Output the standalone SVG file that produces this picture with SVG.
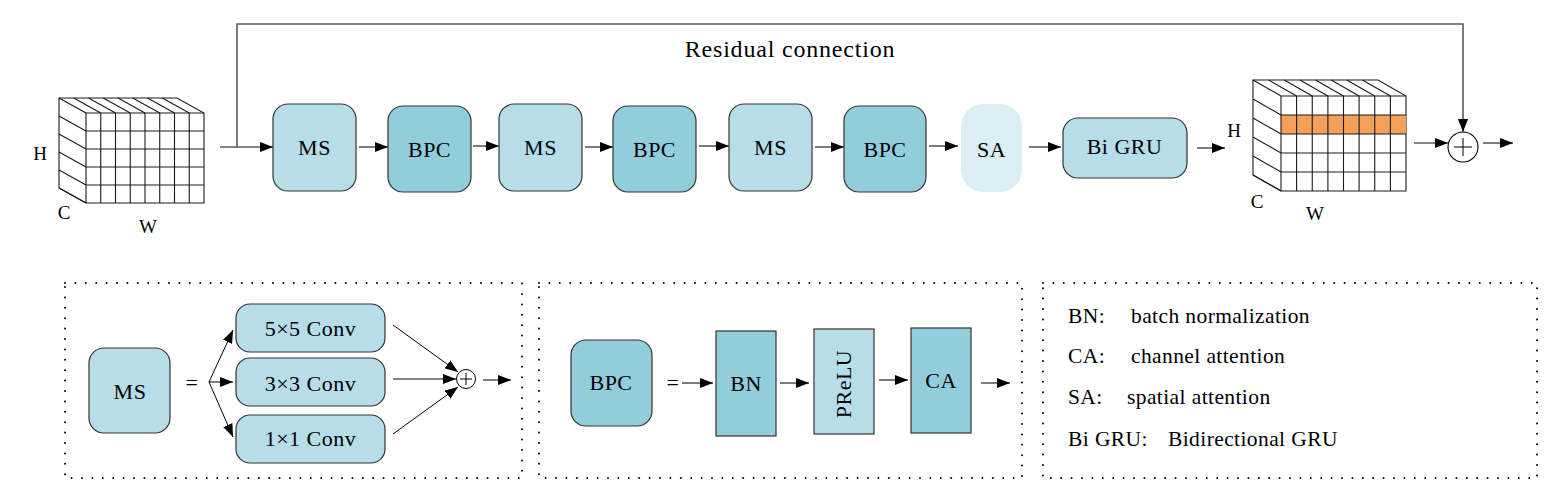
<svg xmlns="http://www.w3.org/2000/svg" width="1544" height="501" viewBox="0 0 1544 501" font-family="'Liberation Serif', 'DejaVu Serif', 'Noto Serif', 'Times New Roman', serif">
<style>
text{font-family:'Liberation Serif','DejaVu Serif','Noto Serif','Times New Roman',serif;fill:#000}
.lbl{font-size:22px;text-anchor:middle;letter-spacing:0.5px}
.axis{font-size:19px;text-anchor:middle}
.leg{font-size:21.5px;letter-spacing:0.4px}
.light{fill:#b7dde8;stroke:#333;stroke-width:1.2}
.dark{fill:#92cddb;stroke:#333;stroke-width:1.2}
.grid{fill:none;stroke:#1a1a1a;stroke-width:1.1}
.arr{fill:none;stroke:#5a5a5a;stroke-width:1.6;marker-end:url(#ah)}
.thin{fill:none;stroke:#000;stroke-width:1;marker-end:url(#ah)}
.dots{fill:none;stroke:#000;stroke-width:2;stroke-dasharray:0 10.4;stroke-linecap:round}
</style>
<defs>
<marker id="ah" markerWidth="13" markerHeight="10" refX="13" refY="5" orient="auto" markerUnits="userSpaceOnUse"><path d="M0,0 L13,5 L0,10 z" fill="#000"/></marker>
</defs>
<rect width="1544" height="501" fill="#fff"/>

<!-- input cube -->
<g id="input-cube">
<path class="grid" fill="#fff" d="M59,98 L177,98 L204,113 L204,203 L86,203 L59,188 Z"/>
<path class="grid" d="M86,113 H204 M86,131 H204 M86,149 H204 M86,167 H204 M86,185 H204 M86,113 V203 M100.75,113 V203 M115.5,113 V203 M130.25,113 V203 M145,113 V203 M159.75,113 V203 M174.5,113 V203 M189.25,113 V203"/>
<path class="grid" d="M86,113 L59,98 M100.75,113 L73.75,98 M115.5,113 L88.5,98 M130.25,113 L103.25,98 M145,113 L118,98 M159.75,113 L132.75,98 M174.5,113 L147.5,98 M189.25,113 L162.25,98"/>
<path class="grid" d="M86,131 L59,116 M86,149 L59,134 M86,167 L59,152 M86,185 L59,170 M86,203 L59,188"/>
<text class="axis" x="40" y="160">H</text>
<text class="axis" x="64" y="219">C</text>
<text class="axis" x="148" y="233">W</text>
</g>

<!-- main row nodes -->
<g id="ms1"><rect class="light" x="273" y="104" width="83" height="87" rx="15"/><text class="lbl" x="314.5" y="155">MS</text></g>
<g id="bpc1"><rect class="dark" x="388" y="106" width="83" height="86" rx="15"/><text class="lbl" x="429.5" y="157">BPC</text></g>
<g id="ms2"><rect class="light" x="499" y="104" width="83" height="87" rx="15"/><text class="lbl" x="540.5" y="155">MS</text></g>
<g id="bpc2"><rect class="dark" x="613" y="106" width="83" height="86" rx="15"/><text class="lbl" x="654.5" y="157">BPC</text></g>
<g id="ms3"><rect class="light" x="729" y="104" width="83" height="87" rx="15"/><text class="lbl" x="770.5" y="155">MS</text></g>
<g id="bpc3"><rect class="dark" x="844" y="106" width="82" height="86" rx="15"/><text class="lbl" x="885" y="157">BPC</text></g>
<g id="sa"><rect x="961" y="104" width="61" height="88" rx="22" fill="#dbeef3"/><text class="lbl" x="991.5" y="156.5">SA</text></g>
<g id="bigru"><rect class="light" x="1063" y="118" width="124" height="60" rx="15"/><text class="lbl" x="1124.5" y="154">Bi GRU</text></g>

<!-- output cube -->
<g id="output-cube">
<path class="grid" fill="#fff" d="M1253,80 L1378,80 L1406,96 L1406,191 L1281,191 L1253,175 Z"/>
<rect x="1281" y="115" width="125" height="19" fill="#f4a05a"/>
<path class="grid" d="M1281,96 H1406 M1281,115 H1406 M1281,134 H1406 M1281,153 H1406 M1281,172 H1406 M1281,96 V191 M1296.6,96 V191 M1312.25,96 V191 M1327.9,96 V191 M1343.5,96 V191 M1359.1,96 V191 M1374.75,96 V191 M1390.4,96 V191"/>
<path class="grid" d="M1281,96 L1253,80 M1296.6,96 L1268.6,80 M1312.25,96 L1284.25,80 M1327.9,96 L1299.9,80 M1343.5,96 L1315.5,80 M1359.1,96 L1331.1,80 M1374.75,96 L1346.75,80 M1390.4,96 L1362.4,80"/>
<path class="grid" d="M1281,115 L1253,99 M1281,134 L1253,118 M1281,153 L1253,137 M1281,172 L1253,156 M1281,191 L1253,175"/>
<text class="axis" x="1234" y="137">H</text>
<text class="axis" x="1257" y="208">C</text>
<text class="axis" x="1315" y="220">W</text>
</g>

<g id="sum-main">
<circle cx="1463" cy="147" r="15" fill="#fff" stroke="#000" stroke-width="1.1"/>
<path d="M1454,147 H1472 M1463,138 V156" stroke="#000" stroke-width="1"/>
</g>

<text x="790" y="57" style="font-size:24px;text-anchor:middle;letter-spacing:0.8px">Residual connection</text>

<!-- connectors -->
<g id="connectors">
<path class="arr" d="M220,147 H273"/>
<path class="arr" d="M237,147 V24 H1463 V132"/>
<path class="arr" d="M359,147 H388"/>
<path class="arr" d="M473,146 H499"/>
<path class="arr" d="M585,147 H613"/>
<path class="arr" d="M699,146 H729"/>
<path class="arr" d="M815,147 H844"/>
<path class="arr" d="M929,146 H958"/>
<path class="arr" d="M1029,147 H1061"/>
<path class="arr" d="M1197,148 H1225"/>
<path class="arr" d="M1414,143 H1448"/>
<path class="arr" d="M1483,143 H1513"/>
<path class="thin" d="M209,382 L233,330"/>
<path class="thin" d="M209,382 L233,382"/>
<path class="thin" d="M209,382 L233,437"/>
<path class="thin" d="M393,325 L458,372"/>
<path class="arr" d="M393,379 L456,379"/>
<path class="thin" d="M393,434 L458,387"/>
<path class="thin" d="M483,380 H511"/>
<path class="arr" d="M682,383 H713"/>
<path class="arr" d="M780,383 H809"/>
<path class="arr" d="M879,380 H908"/>
<path class="arr" d="M981,383 H1010"/>
</g>

<!-- MS panel -->
<g id="ms-panel">
<rect class="dots" x="65" y="283" width="457" height="195"/>
<g id="ms-detail"><rect class="light" x="89" y="348" width="81" height="85" rx="15"/><text class="lbl" x="130" y="399">MS</text></g>
<text class="lbl" x="192" y="390">=</text>
<g id="conv5"><rect class="light" x="236" y="304" width="149" height="48" rx="14"/><text class="lbl" x="310.5" y="336">5×5 Conv</text></g>
<g id="conv3"><rect class="light" x="236" y="358" width="149" height="48" rx="14"/><text class="lbl" x="310.5" y="390.5">3×3 Conv</text></g>
<g id="conv1"><rect class="light" x="236" y="415" width="149" height="48" rx="14"/><text class="lbl" x="310.5" y="445.5">1×1 Conv</text></g>
<g id="sum-ms">
<circle cx="466" cy="379" r="9.5" fill="#fff" stroke="#000" stroke-width="1"/>
<path d="M460,379 H472 M466,373 V385" stroke="#000" stroke-width="1"/>
</g>
</g>

<!-- BPC panel -->
<g id="bpc-panel">
<rect class="dots" x="539" y="283" width="483" height="195"/>
<g id="bpc-detail"><rect class="dark" x="571" y="340" width="81" height="86" rx="15"/><text class="lbl" x="611" y="390">BPC</text></g>
<text class="lbl" x="673" y="390">=</text>
<g id="bn"><rect class="dark" x="716" y="331" width="60" height="105"/><text class="lbl" x="746" y="391">BN</text></g>
<g id="prelu"><rect class="light" x="814" y="329" width="60" height="105"/><text class="lbl" transform="translate(851,384) rotate(-90)" x="0" y="0">PReLU</text></g>
<g id="ca"><rect class="dark" x="911" y="328" width="60" height="105"/><text class="lbl" x="941" y="388">CA</text></g>
</g>

<!-- legend -->
<g id="legend">
<rect class="dots" x="1043" y="283" width="494" height="195"/>
<text class="leg" y="323"><tspan x="1068">BN:</tspan><tspan x="1131">batch normalization</tspan></text>
<text class="leg" y="363"><tspan x="1068">CA:</tspan><tspan x="1131">channel attention</tspan></text>
<text class="leg" y="404"><tspan x="1068">SA:</tspan><tspan x="1127">spatial attention</tspan></text>
<text class="leg" y="446"><tspan x="1068">Bi GRU:</tspan><tspan x="1168">Bidirectional GRU</tspan></text>
</g>
</svg>
